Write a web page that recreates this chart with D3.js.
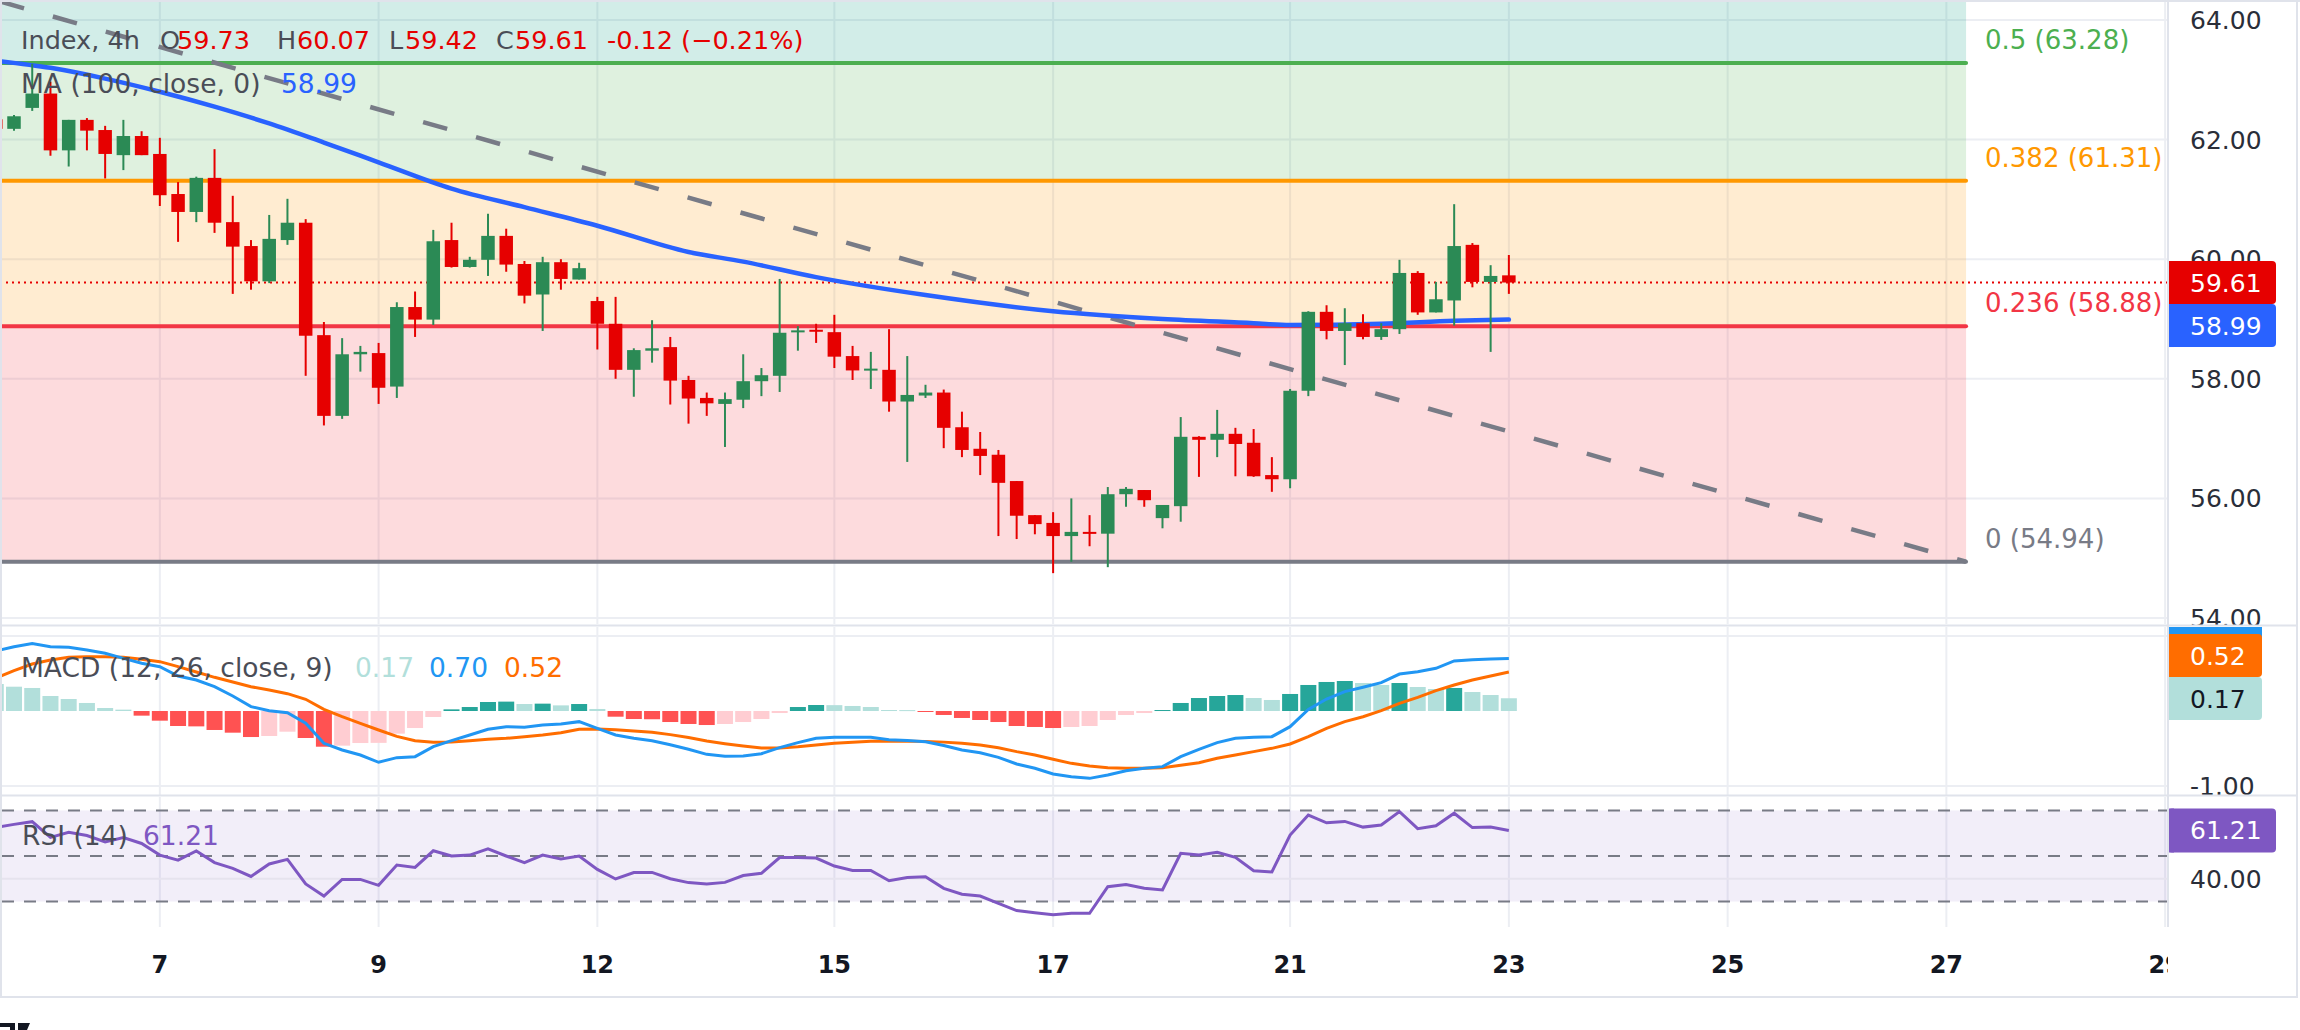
<!DOCTYPE html>
<html>
<head>
<meta charset="utf-8">
<script src="https://cdn.jsdelivr.net/npm/d3@7"></script>
<style>
  body { margin: 0; background: #fff; }
  svg { display: block; font-family: "DejaVu Sans", sans-serif; }
</style>
</head>
<body>
<svg id="chart"></svg>
<script>
// ---- data (bar index -1 .. 82, 4h candles) ----
const opens  = [62.34,62.18,62.53,62.77,61.82,62.33,62.16,61.74,62.06,61.76,61.09,60.79,61.36,60.62,60.22,59.63,60.32,60.61,58.73,57.38,58.41,58.43,57.87,59.20,58.99,60.32,59.87,59.99,60.39,59.92,59.41,59.95,59.66,59.30,58.92,58.15,58.47,58.53,57.98,57.68,57.58,57.65,57.96,58.05,58.78,58.82,58.78,58.38,58.14,58.15,57.62,57.72,57.77,57.19,56.83,56.73,56.29,55.72,55.59,55.37,55.44,55.41,56.07,56.14,55.67,55.87,57.03,56.98,57.08,56.93,56.39,56.32,57.80,59.12,58.80,58.93,58.70,58.83,59.77,59.11,59.31,60.24,59.62,59.73];
const highs  = [62.40,62.41,63.27,62.97,62.33,62.36,62.23,62.33,62.14,62.03,61.29,61.38,61.84,61.06,60.32,60.74,61.01,60.67,58.95,58.68,58.55,58.60,59.28,59.46,60.49,60.61,60.04,60.76,60.51,59.97,60.04,60.00,59.94,59.37,59.37,58.51,58.98,58.70,58.05,57.77,57.77,58.41,58.18,59.67,58.88,58.92,59.07,58.55,58.45,58.83,58.38,57.90,57.82,57.45,57.11,56.81,56.29,55.72,55.77,56.00,55.72,56.19,56.19,56.14,55.89,57.36,57.04,57.48,57.18,57.16,56.69,57.83,59.13,59.23,59.18,59.08,58.93,59.99,59.80,59.62,60.92,60.27,59.90,60.07];
const lows   = [62.15,62.15,62.48,61.73,61.55,61.82,61.35,61.49,61.74,60.89,60.29,60.62,60.44,59.42,59.49,59.60,60.24,58.05,57.22,57.33,58.12,57.58,57.68,58.70,58.90,59.86,59.86,59.72,59.79,59.26,58.80,59.49,59.66,58.49,58.00,57.70,58.27,57.57,57.25,57.38,56.86,57.51,57.71,57.78,58.47,58.60,58.18,57.98,57.83,57.45,56.61,57.68,56.84,56.69,56.39,55.37,55.32,55.40,54.75,54.94,55.20,54.85,55.86,55.86,55.50,55.61,56.36,56.69,56.37,56.36,56.11,56.17,57.71,58.66,58.23,58.66,58.65,58.75,59.07,59.11,58.89,59.53,58.45,59.42];
const closes = [62.18,62.39,62.77,61.82,62.33,62.15,61.76,62.06,61.74,61.07,60.79,61.36,60.61,60.21,59.63,60.34,60.61,58.72,57.38,58.41,58.45,57.85,59.20,58.99,60.30,59.87,59.99,60.39,59.91,59.39,59.95,59.67,59.85,58.92,58.15,58.48,58.51,57.97,57.67,57.59,57.66,57.96,58.06,58.77,58.81,58.79,58.37,58.14,58.17,57.62,57.73,57.77,57.18,56.81,56.71,56.26,55.71,55.57,55.37,55.44,55.41,56.07,56.16,55.97,55.89,57.03,56.98,57.08,56.91,56.37,56.32,57.80,59.12,58.80,58.93,58.70,58.83,59.77,59.11,59.33,60.22,59.62,59.72,59.61];

// MA(100) at these bars
const maIndex = [-1, 2, 5, 8, 11, 14, 17, 20, 24, 28, 32, 37, 40, 44, 50, 57, 63, 68, 70, 75, 79, 82];
const maValue = [63.32,63.20,63.02,62.80,62.55,62.27,61.95,61.62,61.18,60.87,60.56,60.12,59.96,59.70,59.40,59.13,59.00,58.93,58.90,58.92,58.97,58.99];

// MACD (12, 26, close, 9), bar index -1 .. 82
const macdLine = [0.80,0.857,0.90,0.857,0.849,0.813,0.769,0.702,0.636,0.591,0.467,0.413,0.324,0.20,0.058,0.004,-0.022,-0.164,-0.431,-0.52,-0.587,-0.684,-0.622,-0.609,-0.476,-0.396,-0.32,-0.244,-0.209,-0.218,-0.187,-0.173,-0.142,-0.231,-0.32,-0.364,-0.396,-0.45,-0.51,-0.578,-0.604,-0.60,-0.569,-0.489,-0.422,-0.364,-0.351,-0.351,-0.351,-0.382,-0.394,-0.41,-0.46,-0.52,-0.556,-0.618,-0.707,-0.764,-0.84,-0.876,-0.898,-0.853,-0.796,-0.764,-0.742,-0.609,-0.511,-0.422,-0.364,-0.351,-0.342,-0.209,0.022,0.16,0.258,0.316,0.378,0.493,0.524,0.569,0.667,0.684,0.693,0.70];
const signalLine = [0.44,0.538,0.627,0.68,0.716,0.724,0.724,0.716,0.689,0.658,0.591,0.52,0.449,0.387,0.324,0.28,0.231,0.156,0.022,-0.076,-0.164,-0.253,-0.338,-0.396,-0.418,-0.413,-0.396,-0.378,-0.364,-0.342,-0.32,-0.289,-0.244,-0.24,-0.249,-0.267,-0.284,-0.315,-0.353,-0.40,-0.436,-0.467,-0.493,-0.493,-0.476,-0.453,-0.431,-0.418,-0.404,-0.40,-0.402,-0.405,-0.415,-0.431,-0.453,-0.489,-0.542,-0.587,-0.644,-0.698,-0.733,-0.756,-0.764,-0.764,-0.756,-0.724,-0.689,-0.631,-0.587,-0.542,-0.498,-0.44,-0.342,-0.231,-0.142,-0.076,0.004,0.102,0.182,0.271,0.347,0.413,0.467,0.52];
const histValue = [0.36,0.324,0.307,0.20,0.16,0.107,0.04,0.018,-0.062,-0.129,-0.20,-0.205,-0.253,-0.289,-0.347,-0.333,-0.276,-0.36,-0.476,-0.462,-0.427,-0.425,-0.302,-0.227,-0.08,0.022,0.053,0.12,0.125,0.093,0.098,0.075,0.093,0.027,-0.076,-0.107,-0.11,-0.147,-0.173,-0.187,-0.173,-0.147,-0.107,-0.027,0.053,0.08,0.078,0.067,0.053,0.013,0.012,-0.013,-0.053,-0.093,-0.12,-0.147,-0.20,-0.213,-0.227,-0.213,-0.20,-0.12,-0.053,-0.027,0.013,0.107,0.173,0.20,0.213,0.173,0.147,0.227,0.347,0.387,0.40,0.373,0.347,0.373,0.32,0.293,0.307,0.253,0.213,0.17];

// RSI (14)
const rsiValue = [62.6,63.9,65.1,58.2,60.4,59.0,56.2,58.1,55.5,50.4,48.2,52.2,47.1,44.6,41.0,46.5,48.5,37.7,32.4,39.7,39.7,37.1,46.0,45.0,52.3,50.0,50.4,53.1,50.0,47.1,50.4,48.7,50.0,44.1,39.9,42.7,42.8,40.0,38.3,37.7,38.4,41.4,42.4,49.3,49.3,49.1,45.6,43.6,43.6,39.1,40.5,40.9,35.8,33.2,32.4,29.2,26.0,25.1,24.2,24.8,24.8,36.5,37.5,35.8,35.1,51.2,50.4,51.6,49.4,43.5,43.0,59.2,68.0,64.6,65.2,62.7,63.6,69.5,62.0,63.3,68.8,62.5,62.7,61.21];
const rsiLevels = [70, 50, 30];

// fib retracement + trend line drawings
const fibRatios = [0, 0.236, 0.382, 0.5, 0.618];
const fibPrices = [54.94, 58.88, 61.31, 63.28, 65.25];
const fibColors = ["#787b86", "#f23645", "#ff9800", "#4caf50", "#089981"];
const fibEndBar = 107.08;
const trendBars = [-0.77, 107.08];
const trendPrices = [64.31, 54.94];

// axes
const dayLabels = ["7", "9", "12", "15", "17", "21", "23", "25", "27", "29"];
const dayBars   = [8, 20, 32, 45, 57, 70, 82, 94, 106, 118];
const priceTicks = [54, 56, 58, 60, 62, 64];
const macdTicks = [-1, 1];
const rsiTicks = [40];

const firstBar = -1;
const bars = d3.range(opens.length).map(k => ({
  i: k + firstBar, o: opens[k], h: highs[k], l: lows[k], c: closes[k],
  macd: macdLine[k], sig: signalLine[k], hist: histValue[k], rsi: rsiValue[k]
}));
const last = bars[bars.length - 1];

// ---- layout ----
const W = 2300, H = 1030;
const paneR = 2168;
const pricePane = {top: 2, bottom: 624};
const macdPane = {top: 627, bottom: 795};
const rsiPane = {top: 797, bottom: 927};
const upColor = "#2b8a55", downColor = "#e60000";
const gridColor = "#eceef3", borderColor = "#e0e3eb", textColor = "#2a2e39";

const svg = d3.select("#chart").attr("width", W).attr("height", H);
svg.append("rect").attr("width", W).attr("height", H).attr("fill", "#fff");

const x = d3.scaleLinear().domain([0, 82]).range([14, 14 + 82 * 18.23]);
const y = d3.scaleLinear().domain([54, 64]).range([618, 20]);
const yM = d3.scaleLinear().domain([-1, 1]).range([786, 636]);
const yR = d3.scaleLinear().domain([30, 70]).range([901.5, 810.5]);

const defs = svg.append("defs");
function clip(id, x0, y0, x1, y1) {
  defs.append("clipPath").attr("id", id).append("rect")
    .attr("x", x0).attr("y", y0).attr("width", x1 - x0).attr("height", y1 - y0);
  return "url(#" + id + ")";
}
const clipPrice = clip("cp", 0, pricePane.top, paneR, pricePane.bottom);
const clipMacd = clip("cm", 0, macdPane.top, paneR, macdPane.bottom);
const clipRsi = clip("cr", 0, rsiPane.top, paneR, rsiPane.bottom);
const clipTime = clip("ct", 0, rsiPane.bottom, paneR, 997);
const clipPriceAxis = clip("cpa", paneR, pricePane.top, W, pricePane.bottom + 1);
const clipMacdAxis = clip("cma", paneR, macdPane.top, W, macdPane.bottom);
const clipRsiAxis = clip("cra", paneR, rsiPane.top, W, rsiPane.bottom);

// ---- grid ----
const grid = svg.append("g").attr("stroke", gridColor).attr("stroke-width", 2);
[pricePane, macdPane, rsiPane].forEach(p => {
  grid.append("g").selectAll("line").data(dayBars.filter(b => x(b) < paneR)).join("line")
    .attr("x1", d => x(d)).attr("x2", d => x(d)).attr("y1", p.top).attr("y2", p.bottom);
});
grid.append("g").selectAll("line").data(priceTicks).join("line")
  .attr("x1", 0).attr("x2", paneR).attr("y1", d => y(d)).attr("y2", d => y(d));
grid.append("g").selectAll("line").data(macdTicks).join("line")
  .attr("x1", 0).attr("x2", paneR).attr("y1", d => yM(d)).attr("y2", d => yM(d));

// ---- price pane ----
const pp = svg.append("g").attr("clip-path", clipPrice);
const fibEnd = x(fibEndBar);
fibPrices.slice(0, -1).forEach((p, k) => {
  pp.append("rect").attr("x", -10).attr("width", fibEnd + 10)
    .attr("y", y(fibPrices[k + 1])).attr("height", y(p) - y(fibPrices[k + 1]))
    .attr("fill", fibColors[k + 1]).attr("fill-opacity", 0.18);
});
pp.append("g").selectAll("line").data(fibPrices).join("line")
  .attr("x1", -10).attr("x2", fibEnd).attr("y1", d => y(d)).attr("y2", d => y(d))
  .attr("stroke", (d, k) => fibColors[k]).attr("stroke-width", 4).attr("stroke-linecap", "round");
pp.append("g").selectAll("text").data(fibPrices.filter(p => y(p) > 30)).join("text")
  .attr("x", 1985).attr("y", d => y(d) - 14)
  .attr("fill", d => fibColors[fibPrices.indexOf(d)]).attr("font-size", 26)
  .text(d => fibRatios[fibPrices.indexOf(d)] + " (" + d.toFixed(2) + ")");

// trend line
pp.append("line")
  .attr("x1", x(trendBars[0])).attr("y1", y(trendPrices[0]))
  .attr("x2", x(trendBars[1])).attr("y2", y(trendPrices[1]))
  .attr("stroke", "#787b86").attr("stroke-width", 4.5).attr("stroke-dasharray", "25 30");

// last close dotted line
pp.append("line").attr("x1", 0).attr("x2", paneR).attr("y1", y(last.c)).attr("y2", y(last.c))
  .attr("stroke", downColor).attr("stroke-width", 2).attr("stroke-dasharray", "2 4");

// moving average
const maPts = maIndex.map((b, k) => [b, maValue[k]]);
pp.append("path").datum(maPts)
  .attr("d", d3.line().x(d => x(d[0])).y(d => y(d[1])).curve(d3.curveMonotoneX))
  .attr("fill", "none").attr("stroke", "#2962ff").attr("stroke-width", 4.5).attr("stroke-linecap", "round");

// candles
const bodyW = 13.5;
const candle = pp.append("g").selectAll("g").data(bars).join("g")
  .attr("fill", d => d.c >= d.o ? upColor : downColor)
  .attr("stroke", d => d.c >= d.o ? upColor : downColor);
candle.append("line").attr("x1", d => x(d.i)).attr("x2", d => x(d.i))
  .attr("y1", d => y(d.h)).attr("y2", d => y(d.l)).attr("stroke-width", 2);
candle.append("rect").attr("stroke", "none")
  .attr("x", d => x(d.i) - bodyW / 2).attr("width", bodyW)
  .attr("y", d => y(Math.max(d.o, d.c)))
  .attr("height", d => Math.max(2, Math.abs(y(d.o) - y(d.c))));

// ---- MACD pane ----
const mp = svg.append("g").attr("clip-path", clipMacd);
mp.append("g").selectAll("rect").data(bars).join("rect")
  .attr("x", d => x(d.i) - 8).attr("width", 16)
  .attr("y", d => yM(Math.max(0, d.hist)))
  .attr("height", d => Math.max(1, Math.abs(yM(d.hist) - yM(0))))
  .attr("fill", (d, k) => {
    const prev = k > 0 ? bars[k - 1].hist : d.hist + 0.01;
    if (d.hist >= 0) return d.hist >= prev ? "#26a69a" : "#b2dfdb";
    return d.hist < prev ? "#ff5252" : "#ffcdd2";
  });
mp.append("path").datum(bars)
  .attr("d", d3.line().x(d => x(d.i)).y(d => yM(d.sig)))
  .attr("fill", "none").attr("stroke", "#ff6d00").attr("stroke-width", 3);
mp.append("path").datum(bars)
  .attr("d", d3.line().x(d => x(d.i)).y(d => yM(d.macd)))
  .attr("fill", "none").attr("stroke", "#2196f3").attr("stroke-width", 3);

// ---- RSI pane ----
const rp = svg.append("g").attr("clip-path", clipRsi);
rp.append("rect").attr("x", 0).attr("width", paneR)
  .attr("y", yR(70)).attr("height", yR(30) - yR(70))
  .attr("fill", "#7e57c2").attr("fill-opacity", 0.1);
rp.append("g").selectAll("line").data(rsiTicks).join("line")
  .attr("x1", 0).attr("x2", paneR).attr("y1", d => yR(d)).attr("y2", d => yR(d))
  .attr("stroke", "#e6e3ee").attr("stroke-width", 2);
rp.append("g").selectAll("line").data(rsiLevels).join("line")
  .attr("x1", 2).attr("x2", paneR).attr("y1", d => yR(d)).attr("y2", d => yR(d))
  .attr("stroke", "#787b86").attr("stroke-width", 2).attr("stroke-dasharray", "12 10");
rp.append("path").datum(bars)
  .attr("d", d3.line().x(d => x(d.i)).y(d => yR(d.rsi)))
  .attr("fill", "none").attr("stroke", "#7e57c2").attr("stroke-width", 3);

// ---- legends ----
const leg = svg.append("g").attr("font-size", 26.5);
function legend(items, baseY, size) {
  items.forEach(it => leg.append("text").attr("x", it[1]).attr("y", baseY)
    .attr("font-size", size).attr("fill", it[2]).text(it[0]));
}
const red = "#e60000", grey = "#4a4d57";
legend([["Index, 4h", 21, grey], ["O", 160, grey], [d3.format(".2f")(last.o), 177, red],
        ["H", 277, grey], [d3.format(".2f")(last.h), 297, red],
        ["L", 389, grey], [d3.format(".2f")(last.l), 405, red],
        ["C", 496, grey], [d3.format(".2f")(last.c), 515, red],
        ["-0.12 (\u22120.21%)", 607, red]], 49, 25.5);
legend([["MA (100, close, 0)", 21, grey], [maValue[maValue.length - 1].toFixed(2), 281, "#2962ff"]], 93, 26.5);
legend([["MACD (12, 26, close, 9)", 21, grey], [last.hist.toFixed(2), 355, "#b2dfdb"],
        [last.macd.toFixed(2), 429, "#2196f3"], [last.sig.toFixed(2), 504, "#ff6d00"]], 677, 26.5);
legend([["RSI (14)", 22, grey], [last.rsi.toFixed(2), 143, "#7e57c2"]], 845, 26.5);

// ---- right axis ----
const ax = svg.append("g").attr("font-size", 25).attr("fill", textColor);
ax.append("g").attr("clip-path", clipPriceAxis).selectAll("text").data(priceTicks).join("text")
  .attr("x", 2190).attr("y", d => y(d) + 9).text(d => d.toFixed(2));
ax.append("g").attr("clip-path", clipMacdAxis).selectAll("text").data(macdTicks).join("text")
  .attr("x", 2190).attr("y", d => yM(d) + 9).text(d => d.toFixed(2));
ax.append("g").attr("clip-path", clipRsiAxis).selectAll("text").data(rsiTicks).join("text")
  .attr("x", 2190).attr("y", d => yR(d) + 9).text(d => d.toFixed(2));

function tag(g, top, h, w, fill, color, label) {
  g.append("rect").attr("x", paneR).attr("y", top).attr("width", w).attr("height", h)
    .attr("rx", 4).attr("fill", fill);
  g.append("rect").attr("x", paneR).attr("y", top).attr("width", 6).attr("height", h).attr("fill", fill);
  if (label) g.append("text").attr("x", 2190).attr("y", top + h / 2 + 9)
    .attr("fill", color).attr("font-size", 25).text(label);
}
const tagsP = svg.append("g").attr("clip-path", clipPriceAxis);
tag(tagsP, y(last.c) - 21.5, 43, 108, downColor, "#fff", last.c.toFixed(2));
tag(tagsP, y(last.c) + 21.5, 43, 108, "#2962ff", "#fff", maValue[maValue.length - 1].toFixed(2));
const tagsM = svg.append("g").attr("clip-path", clipMacdAxis);
tag(tagsM, 615, 43, 94, "#2196f3", "#fff", null);
tag(tagsM, 634, 43, 94, "#ff6d00", "#fff", last.sig.toFixed(2));
tag(tagsM, 677, 43, 94, "#b2dfdb", "#131722", last.hist.toFixed(2));
const tagsR = svg.append("g").attr("clip-path", clipRsiAxis);
tag(tagsR, yR(last.rsi) - 22, 44, 108, "#7e57c2", "#fff", last.rsi.toFixed(2));

// ---- time axis ----
svg.append("g").attr("clip-path", clipTime).selectAll("text").data(dayLabels).join("text")
  .attr("x", (d, k) => x(dayBars[k])).attr("y", 973).attr("text-anchor", "middle")
  .attr("font-size", 24).attr("font-weight", "bold").attr("fill", "#131722").text(d => d);

// ---- frame ----
const fr = svg.append("g").attr("stroke", borderColor).attr("stroke-width", 2).attr("fill", "none");
fr.append("line").attr("x1", 0).attr("x2", W).attr("y1", 1).attr("y2", 1);
fr.append("line").attr("x1", 0).attr("x2", 2298).attr("y1", 625.5).attr("y2", 625.5);
fr.append("line").attr("x1", 0).attr("x2", 2298).attr("y1", 795.5).attr("y2", 795.5);
fr.append("line").attr("x1", paneR).attr("x2", paneR).attr("y1", 0).attr("y2", rsiPane.bottom);
fr.append("line").attr("x1", 0).attr("x2", 2298).attr("y1", 997).attr("y2", 997);
fr.append("line").attr("x1", 2297).attr("x2", 2297).attr("y1", 0).attr("y2", 997);
fr.append("line").attr("x1", 1).attr("x2", 1).attr("y1", 0).attr("y2", 997);

// logo fragment at the bottom edge
svg.append("path").attr("d", "M0,1023 h15 v7 h-5 v-3 h-10 z M18,1023 h12 l-3,7 h-9 z").attr("fill", "#131722");
</script>
</body>
</html>
